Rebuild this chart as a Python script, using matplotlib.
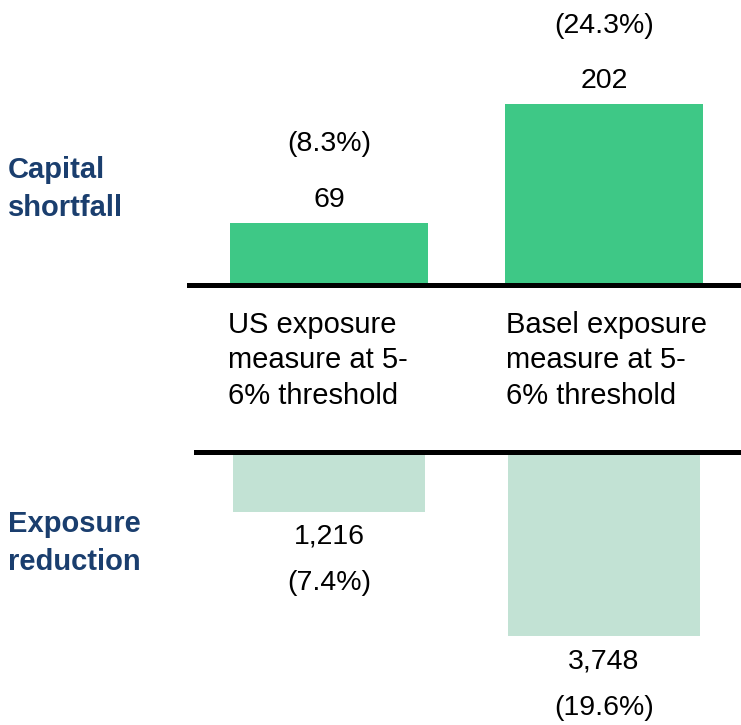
import matplotlib
matplotlib.use("Agg")
import matplotlib.pyplot as plt

plt.rcParams['font.family'] = ['Liberation Sans', 'DejaVu Sans']

categories = ["US exposure\nmeasure at 5-\n6% threshold",
              "Basel exposure\nmeasure at 5-\n6% threshold"]
shortfall = [69, 202]
shortfall_pct = ["(8.3%)", "(24.3%)"]
reduction = [1216, 3748]
reduction_pct = ["(7.4%)", "(19.6%)"]
row_labels = ["Capital\nshortfall", "Exposure\nreduction"]

GREEN = '#3EC886'
LIGHT = '#C2E2D4'
NAVY = '#1A3E6E'

W, H = 741, 725
fig = plt.figure(figsize=(W / 100, H / 100), dpi=100)

x = [0, 1]
xl = (-329 / 275, (W - 329) / 275)

# top panel
top_base = 284.5
ax1 = fig.add_axes([0, 1 - top_base / H, 1, top_base / H])
ax1.bar(x, shortfall, width=0.718, color=GREEN, zorder=2)
ax1.set_xlim(*xl)
ax1.set_ylim(0, top_base / 0.893)
ax1.axhline(0, xmin=189 / W, xmax=1, color='black', lw=3.6, zorder=3, clip_on=False)
for xi, v, p in zip(x, shortfall, shortfall_pct):
    ax1.annotate(f"{v:,}", (xi, v), xytext=(0, 16.5), textcoords='offset points',
                 ha='center', va='center', fontsize=20.5)
    ax1.annotate(p, (xi, v), xytext=(0, 56.5), textcoords='offset points',
                 ha='center', va='center', fontsize=20.5)
ax1.axis('off')

# bottom panel
bot_base = 452
ax2 = fig.add_axes([0, 0, 1, (H - bot_base) / H])
ax2.bar(x, [-r for r in reduction], width=0.70, color=LIGHT, zorder=2)
ax2.set_xlim(*xl)
ax2.set_ylim(-(H - bot_base) / 0.0492, 0)
ax2.axhline(0, xmin=196 / W, xmax=1, color='black', lw=3.6, zorder=3, clip_on=False)
for xi, v, p in zip(x, reduction, reduction_pct):
    ax2.annotate(f"{v:,}", (xi, -v), xytext=(0, -18), textcoords='offset points',
                 ha='center', va='center', fontsize=20.5)
    ax2.annotate(p, (xi, -v), xytext=(0, -51.5), textcoords='offset points',
                 ha='center', va='center', fontsize=20.5)
ax2.axis('off')

# category labels
for xpx, lab in zip([228, 506], categories):
    fig.text(xpx / W, 1 - 311 / H, lab, ha='left', va='top', fontsize=21,
             linespacing=1.33)

# row labels
for ypx, lab in zip([189, 543], row_labels):
    fig.text(8 / W, 1 - ypx / H, lab, ha='left', va='center', fontsize=21,
             fontweight='bold', color=NAVY, linespacing=1.45)

fig.savefig('out.png', dpi=100)
